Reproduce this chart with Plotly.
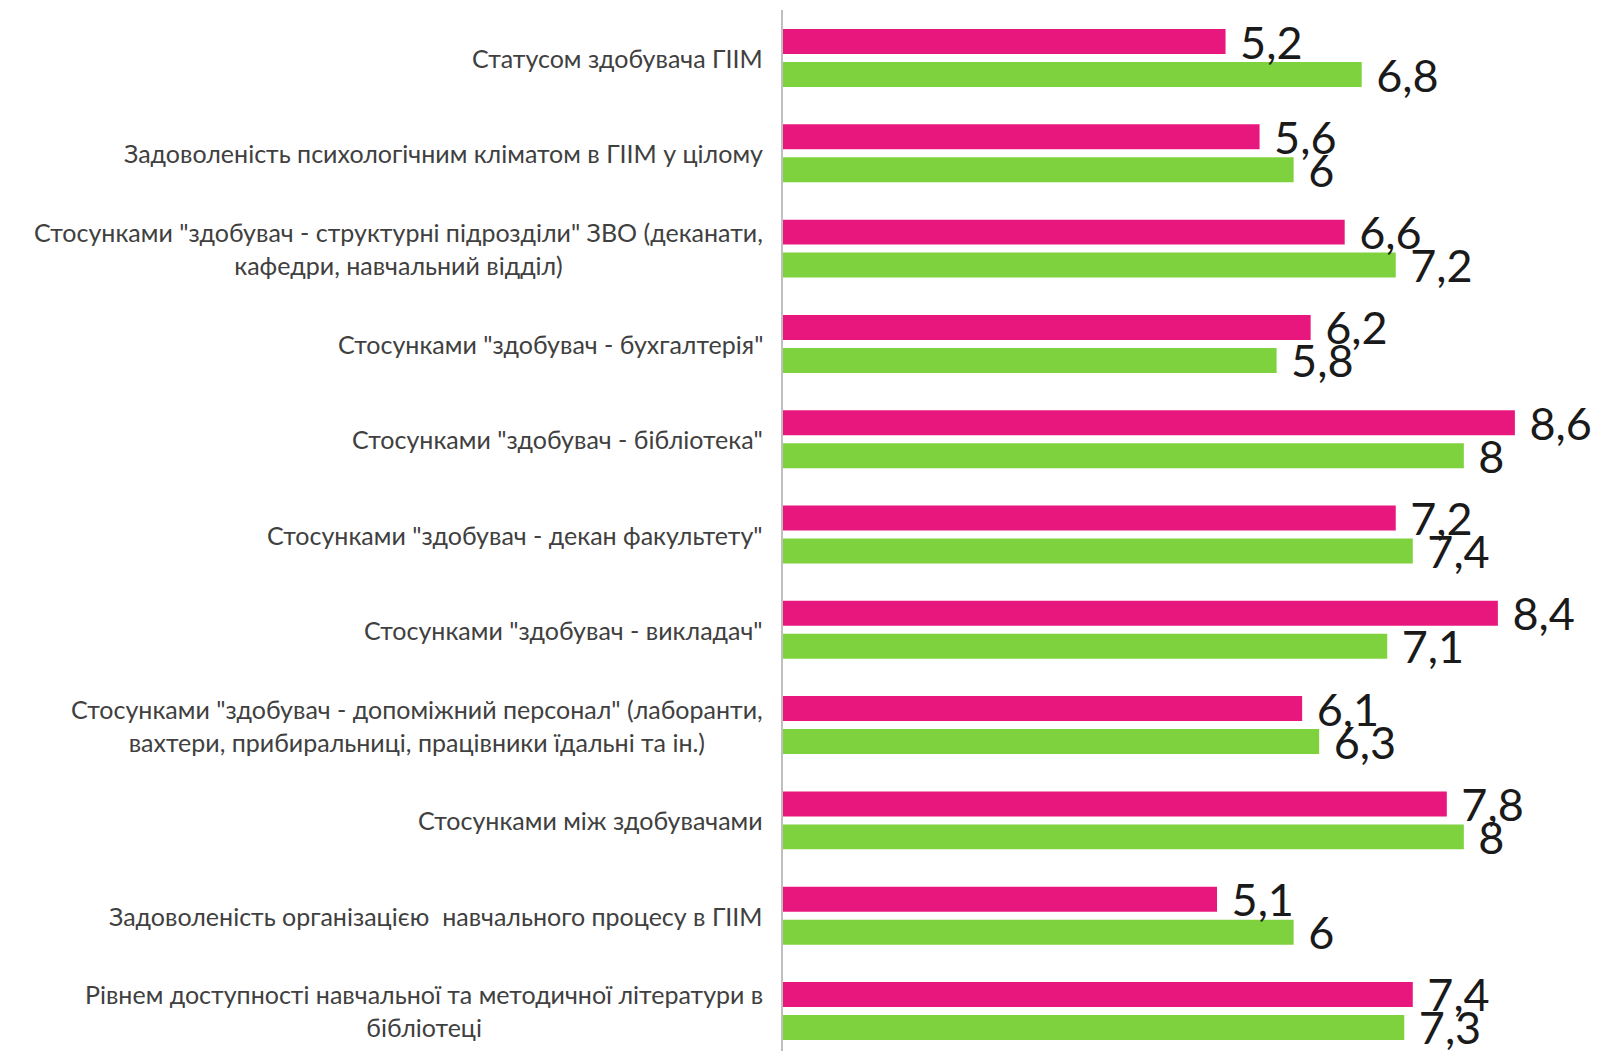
import plotly.graph_objects as go

# categories (top to bottom)
categories = [
    "Статусом здобувача ГІІМ",
    "Задоволеність психологічним кліматом в ГІІМ у цілому",
    "Стосунками \"здобувач - структурні підрозділи\" ЗВО (деканати,<br>кафедри, навчальний відділ)",
    "Стосунками \"здобувач - бухгалтерія\"",
    "Стосунками \"здобувач - бібліотека\"",
    "Стосунками \"здобувач - декан факультету\"",
    "Стосунками \"здобувач - викладач\"",
    "Стосунками \"здобувач - допоміжний персонал\" (лаборанти,<br>вахтери, прибиральниці, працівники їдальні та ін.)",
    "Стосунками між здобувачами",
    "Задоволеність організацією  навчального процесу в ГІІМ",
    "Рівнем доступності навчальної та методичної літератури в<br>бібліотеці",
]
pink_values = [5.2, 5.6, 6.6, 6.2, 8.6, 7.2, 8.4, 6.1, 7.8, 5.1, 7.4]
green_values = [6.8, 6.0, 7.2, 5.8, 8.0, 7.4, 7.1, 6.3, 8.0, 6.0, 7.3]

PINK = "#E8177D"
GREEN = "#7ED23E"


def fmt(v):
    # decimal comma, as in the original
    return ("%g" % v).replace(".", ",")


fig = go.Figure()
# green first so the pink labels are drawn on top of the green bars
for name, vals, color, offset in [
    ("Серія 2", green_values, GREEN, 0.042),
    ("Серія 1", pink_values, PINK, -0.304),
]:
    fig.add_trace(go.Bar(
        name=name,
        y=categories,
        x=vals,
        orientation="h",
        width=0.262,
        offset=offset,
        marker=dict(color=color, line=dict(width=0)),
        text=["\u00a0" + fmt(v) for v in vals],
        textposition="outside",
        constraintext="none",
        cliponaxis=False,
        textfont=dict(family="Lato, sans-serif", size=45, color="#1a1a1a"),
        hoverinfo="x+y",
    ))

# category labels as annotations so two-line labels are centred
for cat in categories:
    fig.add_annotation(
        x=0, y=cat, xref="x", yref="y",
        text=cat, showarrow=False,
        xanchor="right", yanchor="middle", align="center",
        xshift=-18,
        font=dict(family="Lato, sans-serif", size=25, color="#404040"),
    )

# the page body has an 8px margin, so the figure is 8px smaller each way
fig.update_layout(
    width=1592,
    height=1043,
    margin=dict(l=775, r=0, t=2, b=0),
    paper_bgcolor="white",
    plot_bgcolor="white",
    barmode="overlay",
    showlegend=False,
    xaxis=dict(range=[0, 9.6], visible=False, fixedrange=True),
    yaxis=dict(
        range=[10.42, -0.504],
        showticklabels=False,
        ticks="",
        showgrid=False,
        zeroline=False,
        showline=True,
        linecolor="#BFBFBF",
        linewidth=1.5,
    ),
)

fig.write_html("out.html")
